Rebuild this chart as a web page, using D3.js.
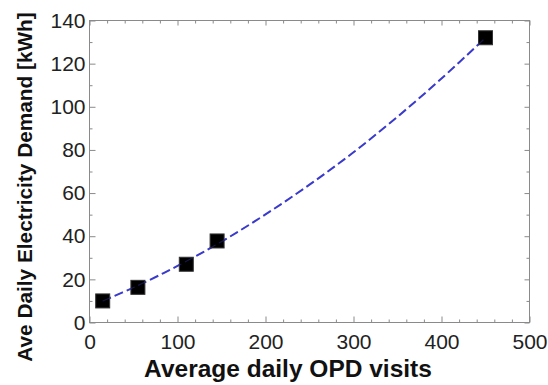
<!DOCTYPE html>
<html>
<head>
<meta charset="utf-8">
<script src="https://cdn.jsdelivr.net/npm/d3@7"></script>
<style>
html,body{margin:0;padding:0;background:#fff;}
svg{display:block;}
</style>
</head>
<body>
<svg id="chart" width="548" height="385"></svg>
<script>
// Data
const opdVisits = [15, 55, 110, 145, 450];
const demandKWh = [10, 16.3, 27, 37.8, 132];
// Fitted trend curve
const fitX = [15, 50, 100, 150, 200, 250, 300, 350, 400, 450];
const fitY = [10, 16.2, 26.2, 37.5, 50.1, 63.9, 78.9, 95.4, 113.1, 132];
const xTicks = [0, 100, 200, 300, 400, 500];
const yTicks = [0, 20, 40, 60, 80, 100, 120, 140];
const xTitle = "Average daily OPD visits";
const yTitle = "Ave Daily Electricity Demand [kWh]";

const svg = d3.select("#chart");
const L = 89.5, R = 529.5, T = 20.5, B = 322.5;
const x = d3.scaleLinear().domain([0, 500]).range([L, R]);
const y = d3.scaleLinear().domain([0, 140]).range([B, T]);

const frameColor = "#8a8a8a";
const font = "Arial, 'Liberation Sans', Helvetica, sans-serif";

const xMinor = d3.range(0, 501, 20);
const yMinor = d3.range(0, 141, 10);

const g = svg.append("g");

function styleAxis(sel) {
  sel.select(".domain").remove();
  sel.selectAll(".tick line").attr("stroke", frameColor);
}

// bottom axis with labels
const xAxisB = g.append("g").attr("transform", `translate(0,${B})`)
  .call(d3.axisBottom(x).tickValues(xTicks).tickSizeInner(-6).tickSizeOuter(0).tickPadding(12));
styleAxis(xAxisB);
xAxisB.selectAll("text").attr("font-family", font).attr("font-size", 21).attr("fill", "#222");

const xAxisBm = g.append("g").attr("transform", `translate(0,${B})`)
  .call(d3.axisBottom(x).tickValues(xMinor.filter(v => v % 100)).tickSizeInner(-3).tickSizeOuter(0).tickFormat(""));
styleAxis(xAxisBm);

// top axis mirror
const xAxisT = g.append("g").attr("transform", `translate(0,${T})`)
  .call(d3.axisTop(x).tickValues(xTicks).tickSizeInner(-5).tickSizeOuter(0).tickFormat(""));
styleAxis(xAxisT);
const xAxisTm = g.append("g").attr("transform", `translate(0,${T})`)
  .call(d3.axisTop(x).tickValues(xMinor.filter(v => v % 100)).tickSizeInner(-3).tickSizeOuter(0).tickFormat(""));
styleAxis(xAxisTm);

// left axis with labels
const yAxisL = g.append("g").attr("transform", `translate(${L},0)`)
  .call(d3.axisLeft(y).tickValues(yTicks).tickSizeInner(-6).tickSizeOuter(0).tickPadding(4));
styleAxis(yAxisL);
yAxisL.selectAll("text").attr("font-family", font).attr("font-size", 21).attr("fill", "#222");
const yAxisLm = g.append("g").attr("transform", `translate(${L},0)`)
  .call(d3.axisLeft(y).tickValues(yMinor.filter(v => v % 20)).tickSizeInner(-3).tickSizeOuter(0).tickFormat(""));
styleAxis(yAxisLm);

// right axis mirror
const yAxisR = g.append("g").attr("transform", `translate(${R},0)`)
  .call(d3.axisRight(y).tickValues(yTicks).tickSizeInner(-5).tickSizeOuter(0).tickFormat(""));
styleAxis(yAxisR);
const yAxisRm = g.append("g").attr("transform", `translate(${R},0)`)
  .call(d3.axisRight(y).tickValues(yMinor.filter(v => v % 20)).tickSizeInner(-3).tickSizeOuter(0).tickFormat(""));
styleAxis(yAxisRm);

// frame
g.append("rect").attr("x", L).attr("y", T).attr("width", R - L).attr("height", B - T)
  .attr("fill", "none").attr("stroke", frameColor).attr("stroke-width", 1);

// fitted curve
const line = d3.line().x((d, i) => x(fitX[i])).y((d, i) => y(fitY[i])).curve(d3.curveCatmullRom);
g.append("path").datum(fitX).attr("d", line)
  .attr("fill", "none").attr("stroke", "#3b3bcc").attr("stroke-width", 2)
  .attr("stroke-dasharray", "9,4");

// markers
const ms = 14;
g.selectAll("rect.pt").data(opdVisits).enter().append("rect").attr("class", "pt")
  .attr("x", (d) => x(d) - ms / 2)
  .attr("y", (d, i) => y(demandKWh[i]) - ms / 2)
  .attr("width", ms).attr("height", ms)
  .attr("fill", "#000").attr("stroke", "#333").attr("stroke-width", 1);

// faint line through markers
g.append("path").datum(fitX).attr("d", line)
  .attr("fill", "none").attr("stroke", "#3b3bcc").attr("stroke-width", 1.2).attr("stroke-opacity", 0.35)
  .attr("stroke-dasharray", "9,4");

// titles
svg.append("text").attr("x", 288).attr("y", 377).attr("text-anchor", "middle")
  .attr("font-family", font).attr("font-weight", "bold").attr("font-size", 24.5).attr("fill", "#111")
  .text(xTitle);
svg.append("text").attr("transform", "translate(31.5,187) rotate(-90)").attr("text-anchor", "middle")
  .attr("font-family", font).attr("font-weight", "bold").attr("font-size", 20.8).attr("fill", "#111")
  .text(yTitle);
</script>
</body>
</html>
